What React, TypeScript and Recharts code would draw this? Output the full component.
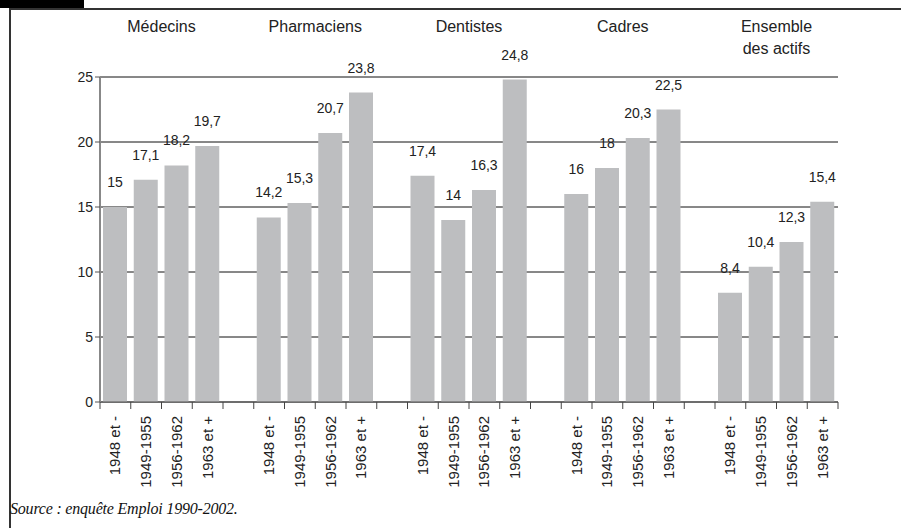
import { BarChart, Bar, XAxis, YAxis, CartesianGrid, LabelList } from 'recharts';

const GROUPS = ['Médecins', 'Pharmaciens', 'Dentistes', 'Cadres', 'Ensemble\ndes actifs'];
const COHORTS = ['1948 et -', '1949-1955', '1956-1962', '1963 et +'];

const medecins = [15, 17.1, 18.2, 19.7];
const pharmaciens = [14.2, 15.3, 20.7, 23.8];
const dentistes = [17.4, 14, 16.3, 24.8];
const cadres = [16, 18, 20.3, 22.5];
const ensemble = [8.4, 10.4, 12.3, 15.4];

const Y_TICKS = [0, 5, 10, 15, 20, 25];

const W = 901;
const H = 528;
const PLOT_LEFT = 100;
const PLOT_RIGHT = 838;
const SLOTS = 24;
const SLOT = (PLOT_RIGHT - PLOT_LEFT) / SLOTS;
const FONT = '"Liberation Sans", Arial, sans-serif';

// 4 bars per group, one empty slot between groups
const series = [medecins, pharmaciens, dentistes, cadres, ensemble];
const data: { key: string; label: string; group: number; pos: number; value: number | null }[] = [];
series.forEach((vals, g) => {
  vals.forEach((v, i) => data.push({ key: `g${g}-${i}`, label: COHORTS[i], group: g, pos: i, value: v }));
  if (g < series.length - 1) data.push({ key: `gap${g}`, label: '', group: -1, pos: -1, value: null });
});

const fmt = (v: any) => (v == null ? '' : String(v).replace('.', ','));

function CohortTick(props: any) {
  const { x, y, index } = props;
  const label = data[index]?.label ?? '';
  const tx = x + 5;
  const ty = y + 6;
  return (
    <g>
      <line x1={x - SLOT / 2} x2={x - SLOT / 2} y1={y - 8} y2={y - 1} stroke="#444" />
      {index === data.length - 1 && (
        <line x1={x + SLOT / 2} x2={x + SLOT / 2} y1={y - 8} y2={y - 1} stroke="#444" />
      )}
      <text
        x={tx}
        y={ty}
        transform={`rotate(-90, ${tx}, ${ty})`}
        textAnchor="end"
        fontSize={15}
        fontFamily={FONT}
        fill="#222"
      >
        {label}
      </text>
    </g>
  );
}

// group title sits over the boundary between the 2nd and 3rd bar of each group
function GroupTick(props: any) {
  const { x, y, index } = props;
  const d = data[index];
  if (!d || d.pos !== 1) return <g />;
  const lines = GROUPS[d.group].split('\n');
  const cx = x + SLOT / 2;
  return (
    <text x={cx} y={y - 37} textAnchor="middle" fontSize={16} fontFamily={FONT} fill="#222">
      {lines.map((l, i) => (
        <tspan key={i} x={cx} dy={i === 0 ? 0 : 22}>
          {l}
        </tspan>
      ))}
    </text>
  );
}

export default function App() {
  return (
    <div style={{ position: 'absolute', left: 0, top: 0, width: W, height: H, background: '#fff', overflow: 'hidden' }}>
      <div style={{ position: 'absolute', left: 0, top: 0, width: 84, height: 8, background: '#000' }} />
      <div
        style={{
          position: 'absolute',
          left: 9,
          top: 8,
          width: W,
          height: H,
          borderTop: '2px solid #333',
          borderLeft: '2px solid #333',
        }}
      />
      <div style={{ position: 'absolute', left: 0, top: 0 }}>
        <BarChart
          width={W}
          height={H}
          data={data}
          margin={{ top: 17, right: W - PLOT_RIGHT, bottom: 26, left: 60 }}
          barSize={24}
        >
          <CartesianGrid horizontal vertical={false} stroke="#111" strokeWidth={1} />
          <XAxis
            dataKey="key"
            xAxisId="bottom"
            height={100}
            interval={0}
            axisLine={{ stroke: '#555' }}
            tickLine={false}
            tick={<CohortTick />}
          />
          <XAxis
            dataKey="key"
            xAxisId="top"
            orientation="top"
            height={60}
            interval={0}
            axisLine={false}
            tickLine={false}
            tick={<GroupTick />}
          />
          <YAxis
            width={40}
            domain={[0, 25]}
            ticks={Y_TICKS}
            interval={0}
            axisLine={{ stroke: '#888', strokeWidth: 2 }}
            tickLine={{ stroke: '#555' }}
            tickSize={5}
            tick={{ fontSize: 14, fontFamily: FONT, fill: '#222' }}
          />
          <Bar dataKey="value" xAxisId="bottom" fill="#bdbec0" isAnimationActive={false}>
            <LabelList
              dataKey="value"
              position="top"
              offset={20}
              formatter={fmt}
              style={{ fontSize: 14, fontFamily: FONT, fill: '#222' }}
            />
          </Bar>
        </BarChart>
      </div>
      <div
        style={{
          position: 'absolute',
          left: 10,
          top: 500,
          fontFamily: '"Liberation Serif", "Times New Roman", serif',
          fontStyle: 'italic',
          fontSize: 16,
          letterSpacing: -0.2,
          color: '#111',
        }}
      >
        Source : enquête Emploi 1990-2002.
      </div>
    </div>
  );
}
